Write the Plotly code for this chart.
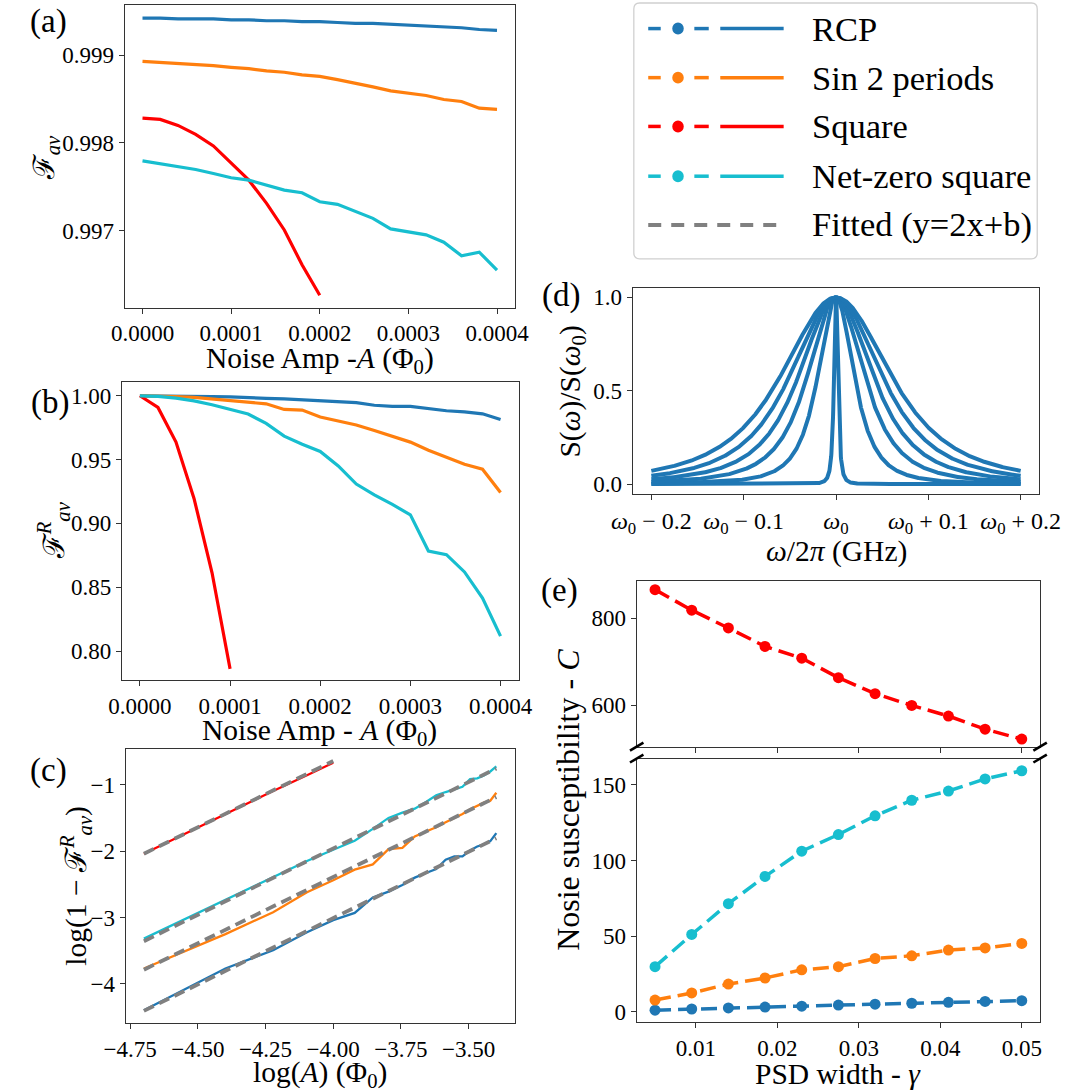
import numpy as np
import plotly.graph_objects as go

W, H = 1088, 1091
SERIF = "Liberation Serif, Times New Roman, DejaVu Serif, serif"
TICK = 23
TITLE = 29.5
BIG = 33
LEG = 34.5

C_RCP = "#1f77b4"
C_SIN = "#ff7f0e"
C_SQR = "#ff0000"
C_NZS = "#17becf"
C_FIT = "#808080"
AX = "#333333"

# ---------------------------------------------------------------- data
# noise amplitude A (Phi_0)
noise_amp = [0.0, 0.00002, 0.00004, 0.00006, 0.00008, 0.00010, 0.00012,
             0.00014, 0.00016, 0.00018, 0.00020, 0.00022, 0.00024, 0.00026,
             0.00028, 0.00030, 0.00032, 0.00034, 0.00036, 0.00038, 0.00040]

# (a) average gate fidelity
fid_rcp = [0.99942, 0.99942, 0.99941, 0.99941, 0.99941, 0.99940, 0.99940,
           0.99939, 0.99939, 0.99938, 0.99938, 0.99937, 0.99936, 0.99936,
           0.99935, 0.99934, 0.99933, 0.99932, 0.99931, 0.99929, 0.99928]
fid_sin2 = [0.998928, 0.998917, 0.998902, 0.998891, 0.998879, 0.998860,
            0.998845, 0.998819, 0.998804, 0.998774, 0.998758, 0.998721,
            0.998683, 0.998638, 0.998592, 0.998570, 0.998540, 0.998494,
            0.998472, 0.998396, 0.998381]
fid_square = [0.998283, 0.998268, 0.998200, 0.998098, 0.997966, 0.997777,
              0.997577, 0.997313, 0.997011, 0.996615, 0.996268]
fid_netzero = [0.997796, 0.997766, 0.997736, 0.997698, 0.997653, 0.997604,
               0.997577, 0.997521, 0.997464, 0.997434, 0.997332, 0.997302,
               0.997226, 0.997143, 0.997023, 0.996985, 0.996955, 0.996872,
               0.996717, 0.996758, 0.996555]

# (b) relative average fidelity
fidR_rcp = [1.0, 0.99996, 0.99983, 0.99968, 0.99940, 0.99909, 0.99883,
            0.99800, 0.99755, 0.99691, 0.99602, 0.99532, 0.99463, 0.99259,
            0.99168, 0.99168, 0.98977, 0.98825, 0.98741, 0.98587, 0.98138]
fidR_sin2 = [1.0, 0.99983, 0.99944, 0.99880, 0.99760, 0.99637, 0.99475,
             0.99369, 0.98928, 0.98878, 0.98340, 0.98028, 0.97709, 0.97277,
             0.96838, 0.96369, 0.95734, 0.95214, 0.94630, 0.94246, 0.92414]
fidR_square = [1.0, 0.99088, 0.96369, 0.91960, 0.86130, 0.78600]
fidR_netzero = [1.0, 0.99952, 0.99818, 0.99602, 0.99292, 0.98953, 0.98571,
                0.97837, 0.96838, 0.96198, 0.95635, 0.94505, 0.93082,
                0.92238, 0.91489, 0.90667, 0.87838, 0.87553, 0.86197,
                0.84151, 0.81164]

# (c) intercepts b of the fitted lines y = 2x + b
fit_b_rcp = 4.99
fit_b_sin2 = 5.61
fit_b_square = 7.358
fit_b_netzero = 6.04

# (d) half width at half maximum of each PSD curve (GHz)
psd_hwhm = [0.0025, 0.023, 0.036, 0.047, 0.058, 0.0695]

# (e) noise susceptibility vs PSD width
psd_width = [0.005, 0.0095, 0.014, 0.0185, 0.023, 0.0275, 0.032, 0.0365,
             0.041, 0.0455, 0.05]
susc_rcp = [1.0, 1.8, 2.5, 3.1, 3.7, 4.4, 5.0, 5.6, 6.2, 6.8, 7.3]
susc_sin2 = [7.7, 12.4, 18.3, 22.3, 27.7, 29.8, 35.2, 37.0, 40.8, 42.2, 45.2]
susc_square = [865.0, 817.9, 777.2, 735.0, 708.1, 663.4, 626.8, 600.0,
               575.6, 545.5, 522.8]
susc_netzero = [29.8, 51.1, 71.5, 89.5, 106.2, 117.2, 129.6, 139.9, 146.0,
                154.0, 159.4]


# ---------------------------------------------------------------- helpers
def fx(px):
    return px / W


def fy(py):
    return 1 - py / H


def dom(x0, x1, y0, y1):
    return [fx(x0), fx(x1)], [fy(y1), fy(y0)]


def axis_style(**kw):
    d = dict(showline=True, linecolor=AX, linewidth=1.3, mirror=True,
             ticks="outside", ticklen=5, tickwidth=1.3, tickcolor=AX,
             showgrid=False, zeroline=False, tickangle=0,
             tickfont=dict(family=SERIF, size=TICK, color="black"))
    d.update(kw)
    return d


fig = go.Figure()


def line(x, y, color, xa, ya, width=3.2, dash="solid", mode="lines", marker=None):
    fig.add_trace(go.Scatter(x=x, y=y, mode=mode, xaxis=xa, yaxis=ya,
                             line=dict(color=color, width=width, dash=dash),
                             marker=marker, showlegend=False, hoverinfo="skip"))


# (a)
amp = np.array(noise_amp)
line(amp, fid_rcp, C_RCP, "x", "y")
line(amp, fid_sin2, C_SIN, "x", "y")
line(amp[:len(fid_square)], fid_square, C_SQR, "x", "y")
line(amp, fid_netzero, C_NZS, "x", "y")

# (b)
line(amp, fidR_rcp, C_RCP, "x2", "y2")
line(amp, fidR_sin2, C_SIN, "x2", "y2")
line(amp[:len(fidR_square)], fidR_square, C_SQR, "x2", "y2")
line(amp, fidR_netzero, C_NZS, "x2", "y2")

# (c) log-log view of the infidelity with slope-2 fits
series_c = [(fidR_rcp, C_RCP, fit_b_rcp), (fidR_sin2, C_SIN, fit_b_sin2),
            (fidR_square, C_SQR, fit_b_square), (fidR_netzero, C_NZS, fit_b_netzero)]
for fr, col, _ in series_c:
    lx = np.log10(amp[1:len(fr)])
    ly = np.log10(1 - np.array(fr[1:]))
    line(lx, ly, col, "x3", "y3", width=2.3)
for fr, col, b in series_c:
    lx = np.log10(amp[1:len(fr)])
    line(lx, 2 * lx + b, C_FIT, "x3", "y3", width=3.8, dash="11px,6px")

# (d) normalised PSD curves
offset = np.linspace(-0.2, 0.2, 1601)
k = 2 ** (2 / 3) - 1
for h in psd_hwhm:
    s = (1 + k * (offset / h) ** 2) ** -1.5
    line(offset, s, C_RCP, "x4", "y4", width=4)

# (e) noise susceptibility, broken y axis
gam = np.array(psd_width)
mk = lambda c: dict(color=c, size=11)
line(gam, susc_square, C_SQR, "x5", "y5", width=3.5, dash="16px,7px",
     mode="lines+markers", marker=mk(C_SQR))
for vals, col in [(susc_rcp, C_RCP), (susc_sin2, C_SIN), (susc_netzero, C_NZS)]:
    line(gam, vals, col, "x6", "y6", width=3.5, dash="16px,7px",
         mode="lines+markers", marker=mk(col))

# ---------------------------------------------------------------- axes
xa_a, ya_a = dom(107, 513, 3, 307)
xa_b, ya_b = dom(104, 517, 382, 681)
xa_c, ya_c = dom(108, 513, 750, 1026)
xa_d, ya_d = dom(636, 1059, 287, 494)
xa_e1, ya_e1 = dom(640, 1060, 582, 748)
xa_e2, ya_e2 = dom(640, 1060, 760, 1025)

amp_ticks = [0, 0.0001, 0.0002, 0.0003, 0.0004]
amp_text = ["0.0000", "0.0001", "0.0002", "0.0003", "0.0004"]

w0 = "<i>ω</i><sub>0</sub>"
d_ticks = [w0 + " \u2212 0.2", w0 + " \u2212 0.1", w0,
           w0 + " + 0.1", w0 + " + 0.2"]

layout = dict(
    xaxis=axis_style(domain=xa_a, anchor="y", range=[-0.00002, 0.00042],
                     tickvals=amp_ticks, ticktext=amp_text),
    yaxis=axis_style(domain=ya_a, anchor="x", range=[0.996128, 0.999569],
                     tickvals=[0.997, 0.998, 0.999],
                     ticktext=["0.997", "0.998", "0.999"]),
    xaxis2=axis_style(domain=xa_b, anchor="y2", range=[-0.00002, 0.00042],
                      tickvals=amp_ticks, ticktext=amp_text),
    yaxis2=axis_style(domain=ya_b, anchor="x2", range=[0.7774, 1.0106],
                      tickvals=[0.80, 0.85, 0.90, 0.95, 1.00],
                      ticktext=["0.80", "0.85", "0.90", "0.95", "1.00"]),
    xaxis3=axis_style(domain=xa_c, anchor="y3", range=[-4.766, -3.330],
                      tickvals=[-4.75, -4.5, -4.25, -4.0, -3.75, -3.5],
                      ticktext=["\u22124.75", "\u22124.50", "\u22124.25",
                                "\u22124.00", "\u22123.75", "\u22123.50"]),
    yaxis3=axis_style(domain=ya_c, anchor="x3", range=[-4.595, -0.455],
                      tickvals=[-4, -3, -2, -1],
                      ticktext=["\u22124", "\u22123", "\u22122", "\u22121"]),
    xaxis4=axis_style(domain=xa_d, anchor="y4", range=[-0.22, 0.22],
                      tickvals=[-0.2, -0.1, 0, 0.1, 0.2], ticktext=d_ticks,
                      tickfont=dict(family=SERIF, size=24, color="black")),
    yaxis4=axis_style(domain=ya_d, anchor="x4", range=[-0.052, 1.052],
                      tickvals=[0, 0.5, 1.0], ticktext=["0.0", "0.5", "1.0"]),
    xaxis5=axis_style(domain=xa_e1, anchor="y5", range=[0.00275, 0.05225],
                      tickvals=[0.01, 0.02, 0.03, 0.04, 0.05],
                      showticklabels=False),
    yaxis5=axis_style(domain=ya_e1, anchor="x5", range=[505.7, 884.0],
                      tickvals=[600, 800], ticktext=["600", "800"]),
    xaxis6=axis_style(domain=xa_e2, anchor="y6", range=[0.00275, 0.05225],
                      tickvals=[0.01, 0.02, 0.03, 0.04, 0.05],
                      ticktext=["0.01", "0.02", "0.03", "0.04", "0.05"]),
    yaxis6=axis_style(domain=ya_e2, anchor="x6", range=[-7.0, 167.5],
                      tickvals=[0, 50, 100, 150],
                      ticktext=["0", "50", "100", "150"]),
)

# ---------------------------------------------------------------- texts
ann = []


def text(s, x, y, size=TITLE, angle=0, xanchor="center"):
    ann.append(dict(text=s, x=fx(x), y=fy(y), xref="paper", yref="paper",
                    showarrow=False, textangle=angle, xanchor=xanchor,
                    yanchor="middle",
                    font=dict(family=SERIF, size=size, color="black")))


# panel labels
text("(a)", 28, 20, BIG)
text("(b)", 29, 402, BIG)
text("(c)", 28, 772, BIG)
text("(d)", 561, 295, BIG)
text("(e)", 560, 591, BIG)

# axis titles
CAL_F = "ℱ"
FAV = CAL_F + "<sub><i>av</i></sub>"
FRAV = CAL_F + "<sup><i>R</i></sup><sub><i>av</i></sub>"
text("Noise Amp -<i>A</i> (Φ<sub>0</sub>)", 310, 360)
text(FAV, 25, 157, angle=-90)
text("Noise Amp - <i>A</i> (Φ<sub>0</sub>)", 310, 733)
text(FRAV, 33, 531, angle=-90)
text("log(<i>A</i>) (Φ<sub>0</sub>)", 310, 1077)
text("log(1 \u2212 " + FRAV + ")", 57, 888, angle=-90)
text("S(<i>ω</i>)/S(<i>ω</i><sub>0</sub>)", 573, 391, angle=-90)
text("<i>ω</i>/2<i>π</i> (GHz)", 848, 552)
text("Nosie susceptibility - <i>C</i>", 569, 802, size=32, angle=-90)
text("PSD width - <i>γ</i>", 850, 1077)

# ---------------------------------------------------------------- legend
shapes = []


def seg(x0, y0, x1, y1, color, width, dash="solid"):
    shapes.append(dict(type="line", xref="paper", yref="paper",
                       x0=fx(x0), y0=fy(y0), x1=fx(x1), y1=fy(y1),
                       line=dict(color=color, width=width, dash=dash)))


# rounded legend frame
lx0, ly0, lx1, ly1, r = 637, 1, 1057, 258, 6
path = (f"M {fx(lx0 + r)},{fy(ly0)} L {fx(lx1 - r)},{fy(ly0)} "
        f"Q {fx(lx1)},{fy(ly0)} {fx(lx1)},{fy(ly0 + r)} "
        f"L {fx(lx1)},{fy(ly1 - r)} Q {fx(lx1)},{fy(ly1)} {fx(lx1 - r)},{fy(ly1)} "
        f"L {fx(lx0 + r)},{fy(ly1)} Q {fx(lx0)},{fy(ly1)} {fx(lx0)},{fy(ly1 - r)} "
        f"L {fx(lx0)},{fy(ly0 + r)} Q {fx(lx0)},{fy(ly0)} {fx(lx0 + r)},{fy(ly0)} Z")
shapes.append(dict(type="path", path=path, xref="paper", yref="paper",
                   fillcolor="white", line=dict(color="#d0d0d0", width=1.3),
                   layer="below"))

legend_rows = [("RCP", C_RCP), ("Sin 2 periods", C_SIN), ("Square", C_SQR),
               ("Net-zero square", C_NZS)]
row_y = [26.7, 76, 125, 175, 224]
for (label, col), yy in zip(legend_rows, row_y):
    seg(652, yy, 665, yy, col, 3.5)
    seg(700, yy, 715, yy, col, 3.5)
    shapes.append(dict(type="circle", xref="paper", yref="paper",
                       x0=fx(677), x1=fx(689), y0=fy(yy + 6), y1=fy(yy - 6),
                       fillcolor=col, line=dict(color=col, width=0)))
    seg(727, yy, 793, yy, col, 3.5)
    text(label, 820, yy, LEG, xanchor="left")
seg(652, row_y[4], 792, row_y[4], C_FIT, 4, dash="13px,10px")
text("Fitted (y=2x+b)", 820, row_y[4], LEG, xanchor="left")

# broken-axis marks for (e)
for xc in (640, 1060):
    for yc in (748, 760):
        seg(xc - 7, yc + 4, xc + 7, yc - 4, "black", 2.6)

fig.update_layout(
    width=W, height=H, autosize=False,
    margin=dict(l=0, r=0, t=0, b=0),
    paper_bgcolor="white", plot_bgcolor="white",
    showlegend=False,
    annotations=ann, shapes=shapes,
    font=dict(family=SERIF, color="black"),
    **layout,
)

fig.write_html("out.html")
